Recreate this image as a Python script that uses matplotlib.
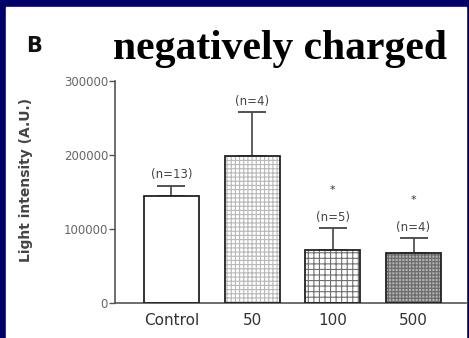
import numpy as np
import matplotlib
matplotlib.use("Agg")
import matplotlib.pyplot as plt

# data
groups = ["Control", "50", "100", "500"]
means = [144000, 198500, 71000, 67000]
sem = [14000, 59000, 30000, 20500]
n_labels = ["(n=13)", "(n=4)", "(n=5)", "(n=4)"]
signif = ["", "", "*", "*"]
yticks = [0, 100000, 200000, 300000]

hatches = ["", "++++", "+++", "+++++"]
hatch_cols = ["white", "#b8b8b8", "#707070", "#6a6a6a"]
face_cols = ["white", "white", "white", "#b0b0b0"]

fig = plt.figure(figsize=(4.69, 3.38), dpi=100)
fig.patch.set_facecolor("#000066")
# white panel inside the blue frame
fig.add_artist(plt.Rectangle((6/469, 0), (466-6)/469, (338-7)/338,
                             transform=fig.transFigure, color="white", zorder=0))

ax = fig.add_axes([115/469, 35/338, 351/469, 222/338])
ax.set_facecolor("none")
x = np.arange(len(groups))
plt.rcParams['hatch.linewidth'] = 0.8

# hatched fill first, then black outline on top
for i in range(len(groups)):
    ax.bar(x[i], means[i], width=0.68, color=face_cols[i], hatch=hatches[i],
           edgecolor=hatch_cols[i], linewidth=0, zorder=2)
ax.bar(x, means, width=0.68, fill=False, edgecolor="#222222", linewidth=1.3, zorder=3)
ax.errorbar(x, means, yerr=[np.zeros(len(sem)), sem], fmt="none",
            ecolor="#444444", elinewidth=1.2, capsize=10, capthick=1.3, zorder=1)

for i in range(len(groups)):
    top = means[i] + sem[i]
    ax.text(x[i], top + 15000, n_labels[i], ha="center", va="center",
            fontsize=8.5, color="#444444")
    if signif[i]:
        ax.text(x[i], top + 52000, signif[i], ha="center", va="center",
                fontsize=8, color="#333333")

ax.set_xlim(-0.70, 3.65)
ax.set_ylim(0, 300000)
ax.set_yticks(yticks)
ax.set_yticklabels([str(t) for t in yticks], fontsize=8.5, color="#666666")
ax.set_xticks(x)
ax.set_xticklabels(groups, fontsize=11, color="#333333")
ax.tick_params(axis="x", length=0, pad=7)
ax.tick_params(axis="y", length=4, width=1, color="#555555", pad=1)
for s in ["top", "right"]:
    ax.spines[s].set_visible(False)
for s in ["left", "bottom"]:
    ax.spines[s].set_color("#555555")
    ax.spines[s].set_linewidth(1.2)
ax.set_ylabel("Light intensity (A.U.)", fontsize=10, color="#444444",
              fontweight="semibold")
ax.yaxis.set_label_coords(-(115 - 33) / 351, 0.555)

fig.text(34/469, 1 - 46/338, "B", fontsize=15, fontweight="bold",
         ha="center", va="center", color="#111111")
fig.text(280/469, 1 - 49/338, "negatively charged", fontsize=30,
         fontweight="bold", family="Liberation Serif",
         ha="center", va="center", color="black")

fig.savefig("out.png", dpi=100, facecolor=fig.get_facecolor())
